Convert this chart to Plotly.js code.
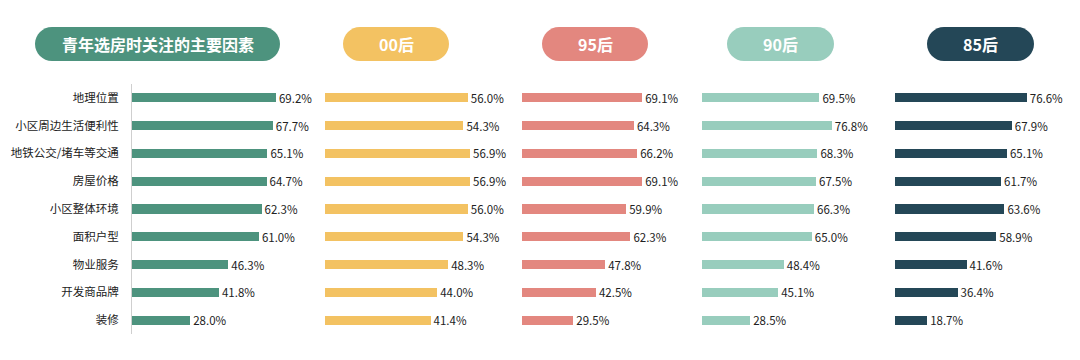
<!DOCTYPE html>
<html><head><meta charset="utf-8">
<script src="https://cdn.plot.ly/plotly-3.0.1.min.js"></script>
<style>html,body{margin:0;padding:0;background:#fff;}#chart{width:1080px;height:360px;}</style>
</head><body><div id="chart"></div>
<script>
const categories = ["地理位置","小区周边生活便利性","地铁公交/堵车等交通","房屋价格","小区整体环境","面积户型","物业服务","开发商品牌","装修"];
const youthAll = [69.2,67.7,65.1,64.7,62.3,61.0,46.3,41.8,28.0];
const gen00 = [56.0,54.3,56.9,56.9,56.0,54.3,48.3,44.0,41.4];
const gen95 = [69.1,64.3,66.2,69.1,59.9,62.3,47.8,42.5,29.5];
const gen90 = [69.5,76.8,68.3,67.5,66.3,65.0,48.4,45.1,28.5];
const gen85 = [76.6,67.9,65.1,61.7,63.6,58.9,41.6,36.4,18.7];
const panelTitles = ["青年选房时关注的主要因素","00后","95后","90后","85后"];

const W = 1080, H = 360;
const series = [youthAll, gen00, gen95, gen90, gen85];
const colors = ["#4D937E","#F3C262","#E3877F","#98CDBD","#244757"];
const starts = [132, 325, 522, 702, 895];
const scales = [2.08, 2.55, 1.74, 1.69, 1.72];
const pills = [[35,280],[343,449],[542,648],[727,834],[927,1034]];
const domW = 170;

const px = x => x / W, py = y => 1 - y / H;

const traces = series.map((vals, i) => ({
  type: 'bar', orientation: 'h',
  x: vals, y: categories,
  xaxis: i === 0 ? 'x' : 'x' + (i + 1), yaxis: 'y',
  marker: {color: colors[i]},
  width: 0.33,
  text: vals.map(v => v.toFixed(1) + '%'),
  textposition: 'outside',
  constraintext: 'none',
  cliponaxis: false,
  outsidetextfont: {family: 'Noto Sans CJK SC, sans-serif', size: 11.5, color: '#222'},
  hoverinfo: 'skip'
}));

const layout = {
  width: W, height: H,
  margin: {l: 0, r: 0, t: 0, b: 0},
  paper_bgcolor: '#fff', plot_bgcolor: 'rgba(0,0,0,0)',
  showlegend: false,
  bargap: 0,
  yaxis: {
    type: 'category', autorange: 'reversed',
    domain: [(H - 334) / H, (H - 84) / H],
    anchor: 'x',
    showline: true, linecolor: '#cfcfcf', linewidth: 1,
    showgrid: false, zeroline: false, ticks: '',
    ticklabelstandoff: 10,
    tickfont: {family: 'Noto Sans CJK SC, sans-serif', size: 11.5, color: '#222'}
  },
  shapes: [], annotations: []
};

series.forEach((vals, i) => {
  const key = i === 0 ? 'xaxis' : 'xaxis' + (i + 1);
  layout[key] = {
    domain: [px(starts[i]), px(starts[i] + domW)],
    range: [0, domW / scales[i]],
    anchor: 'y',
    visible: false, fixedrange: true
  };
  const [x0, x1] = pills[i];
  const y0 = 27, y1 = 61, r = (y1 - y0) / 2, yc = (y0 + y1) / 2, k = 0.5523 * r;
  const P = (x, y) => px(x).toFixed(5) + ',' + py(y).toFixed(5);
  const path = 'M' + P(x0 + r, y0) + ' L' + P(x1 - r, y0) +
    ' C' + P(x1 - r + k, y0) + ' ' + P(x1, yc - k) + ' ' + P(x1, yc) +
    ' C' + P(x1, yc + k) + ' ' + P(x1 - r + k, y1) + ' ' + P(x1 - r, y1) +
    ' L' + P(x0 + r, y1) +
    ' C' + P(x0 + r - k, y1) + ' ' + P(x0, yc + k) + ' ' + P(x0, yc) +
    ' C' + P(x0, yc - k) + ' ' + P(x0 + r - k, y0) + ' ' + P(x0 + r, y0) + ' Z';
  layout.shapes.push({type: 'path', xref: 'paper', yref: 'paper', path: path,
    fillcolor: colors[i], line: {width: 0}, layer: 'below'});
  layout.annotations.push({xref: 'paper', yref: 'paper', x: px((x0 + x1) / 2), y: py(yc),
    xanchor: 'center', yanchor: 'middle', showarrow: false,
    text: '<b>' + panelTitles[i] + '</b>',
    font: {family: 'Noto Sans CJK SC, sans-serif', size: 16, color: '#fff'}});
});

Plotly.newPlot('chart', traces, layout, {displayModeBar: false, staticPlot: true});
</script>
</body></html>
